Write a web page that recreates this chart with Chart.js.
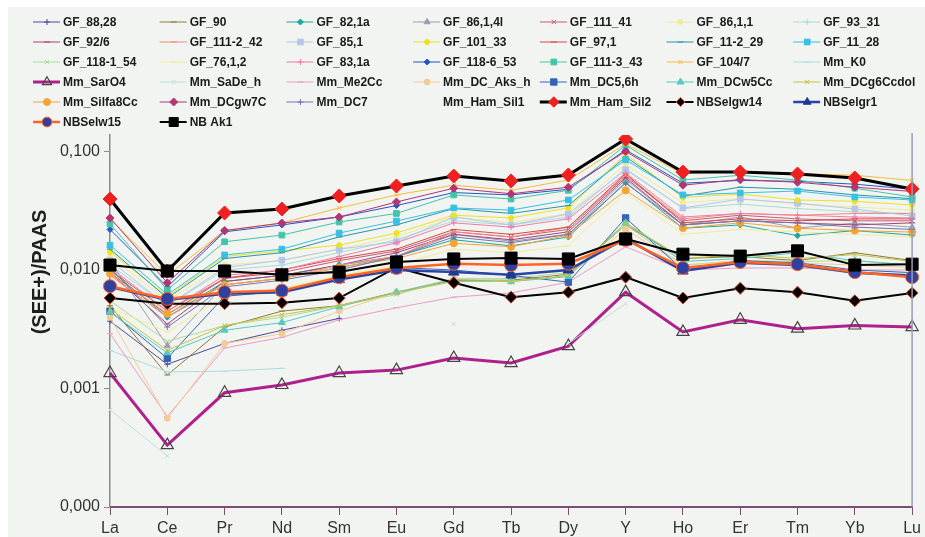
<!DOCTYPE html>
<html>
<head>
<meta charset="utf-8">
<script src="https://cdn.jsdelivr.net/npm/chart.js@4.4.1/dist/chart.umd.min.js"></script>
<style>
html,body{margin:0;padding:0;background:#ffffff;}
#c{display:block;}
</style>
</head>
<body>
<canvas id="c" width="925" height="537"></canvas>
<script>
// ---------- DATA ----------
const categories = ["La","Ce","Pr","Nd","Sm","Eu","Gd","Tb","Dy","Y","Ho","Er","Tm","Yb","Lu"];
const yTicks = [0.0001, 0.001, 0.01, 0.1];
const yTickLabels = ["0,000", "0,001", "0,010", "0,100"];
const yTitle = "(SEE+)/PAAS";

const gf88_28    = [0.0037,0.0016,0.0024,0.0031,0.0039,null,null,null,null,null,null,null,null,null,null];
const gf90       = [0.0050,0.0013,0.0033,0.0045,0.0050,0.0065,0.0082,0.0082,0.0092,0.024,0.0125,0.0130,0.0120,0.0140,0.0120];
const gf82_1a    = [0.0100,0.0040,0.0080,0.0090,0.0110,0.0130,0.0180,0.0160,0.0190,0.055,0.0225,0.0240,0.0195,0.0215,0.0197];
const gf86_1_4l  = [0.0120,0.0023,0.0075,0.0085,0.0105,0.0130,0.0200,0.0175,0.0200,0.058,0.0240,0.0280,0.0226,0.0249,0.0230];
const gf111_41   = [0.0100,0.0045,0.0085,0.0095,0.0120,0.0145,0.0210,0.0190,0.0220,0.062,0.0260,0.0290,0.0270,0.0260,0.0260];
const gf86_1_1   = [0.0130,0.0055,0.0110,0.0120,0.0150,0.0190,0.0280,0.0250,0.0300,0.078,0.0370,0.0400,0.0360,0.0340,0.0320];
const gf93_31    = [0.0110,0.0050,0.0100,0.0110,0.0140,0.0180,0.0260,0.0240,0.0280,0.072,0.0330,0.0360,0.0330,0.0310,0.0300];
const gf92_6     = [0.0095,0.0035,0.0080,0.0090,0.0110,0.0140,0.0200,0.0180,0.0210,0.060,0.0240,0.0260,0.0250,0.0240,0.0250];
const gf111_2_42 = [0.0090,0.0040,0.0075,0.0085,0.0110,0.0130,0.0210,0.0190,0.0230,0.063,0.0270,0.0300,0.0290,0.0300,0.0300];
const gf85_1     = [0.0120,0.0050,0.0105,0.0121,0.0150,0.0173,0.0280,0.0240,0.0297,0.070,0.0334,0.0397,0.0367,0.0327,0.0286];
const gf101_33   = [0.0142,0.0060,0.0130,0.0145,0.0162,0.0205,0.0290,0.0275,0.0334,0.095,0.0410,0.0437,0.0390,0.0380,0.0354];
const gf97_1     = [0.0095,0.0042,0.0085,0.0100,0.0125,0.0150,0.0220,0.0200,0.0230,0.065,0.0250,0.0270,0.0260,0.0270,0.0270];
const gf11_2_29  = [0.0150,0.0058,0.0125,0.0140,0.0190,0.0240,0.0330,0.0300,0.0350,0.090,0.0420,0.0500,0.0480,0.0430,0.0400];
const gf11_28    = [0.0162,0.0062,0.0134,0.0150,0.0205,0.0259,0.0334,0.0320,0.0390,0.085,0.0430,0.0447,0.0464,0.0413,0.0390];
const gf118_1_54 = [0.0055,0.0025,0.0034,0.0040,0.0050,0.0062,0.0085,0.0085,0.0095,0.024,0.0110,0.0120,0.0118,0.0120,0.0110];
const gf76_1_2   = [0.0048,0.0030,0.0060,0.0070,0.0090,0.0110,0.0150,0.0140,0.0160,0.045,0.0200,0.0220,0.0210,0.0200,0.0190];
const gf83_1a    = [0.0105,0.0045,0.0090,0.0100,0.0130,0.0170,0.0250,0.0230,0.0270,0.066,0.0280,0.0300,0.0290,0.0280,0.0275];
const gf118_6_53 = [0.0220,0.0072,0.0210,0.0240,0.0280,0.0350,0.0450,0.0430,0.0480,0.103,0.0540,0.0570,0.0560,0.0530,0.0480];
const gf111_3_43 = [0.0245,0.0068,0.0173,0.0197,0.0254,0.0300,0.0430,0.0397,0.0470,0.113,0.0575,0.0630,0.0575,0.0490,0.0413];
const gf104_7    = [0.0270,0.0090,0.0215,0.0250,0.0334,0.0430,0.0520,0.0470,0.0575,0.116,0.0650,0.0680,0.0650,0.0630,0.0570];
const mmK0       = [0.0021,0.00138,0.00140,0.00148,null,null,null,null,null,null,null,null,null,null,null];
const mmSarO4    = [0.00135,0.000333,0.00092,0.00107,0.00135,0.00143,0.00181,0.00164,0.00228,0.0065,0.0030,0.0038,0.0032,0.0034,0.0033];
const mmSaDe_h   = [0.00066,0.00027,null,null,null,null,0.0035,null,0.0024,0.0052,null,null,null,null,null];
const mmMe2Cc    = [0.0029,0.00058,0.0022,0.0027,0.0038,0.0048,0.0059,0.0064,0.0079,0.0157,0.0100,0.0104,0.0104,0.0100,0.0100];
const mmDC_Aks_h = [0.0040,0.00056,0.0024,0.0029,0.0045,0.0065,0.0085,0.0080,0.0090,0.022,0.0110,0.0120,0.0115,0.0110,0.0105];
const mmDC5_6h   = [0.0045,0.0018,0.0060,0.0066,0.0085,0.0105,0.0100,0.0090,0.0079,0.0275,0.0100,0.0120,0.0115,0.0100,0.0095];
const mmDCw5Cc   = [0.0044,0.0020,0.0031,0.0036,0.0049,0.0065,0.0083,0.0080,0.0088,0.025,0.0118,0.0125,0.0140,0.0120,0.0110];
const mmDCg6Ccdol= [0.0047,0.0021,0.0034,0.0042,0.0050,0.0064,0.0080,0.0080,0.0090,0.025,0.0125,0.0135,0.0125,0.0135,0.0118];
const mmSilfa8Cc = [0.0093,0.0043,0.0075,0.0085,0.0105,0.0125,0.0168,0.0157,0.0197,0.047,0.0226,0.0250,0.0225,0.0215,0.0209];
const mmDCgw7C   = [0.0275,0.0078,0.0215,0.0249,0.0280,0.0375,0.0490,0.0440,0.0500,0.100,0.0520,0.0580,0.0550,0.0500,0.0460];
const mmDC7      = [0.0105,0.0033,0.0072,0.0082,0.0100,0.0130,0.0190,0.0170,0.0200,0.054,0.0240,0.0260,0.0250,0.0230,0.0220];
const mmHamSil1  = [null,null,null,null,null,null,null,null,null,null,null,null,null,null,null];
const mmHamSil2  = [0.0397,0.0098,0.0303,0.0327,0.0421,0.0512,0.0621,0.0564,0.0634,0.1275,0.0671,0.0671,0.0646,0.0598,0.0483];
const nbSelgw14  = [0.0058,0.0052,0.0052,0.0053,0.0058,0.0105,0.0078,0.0059,0.0065,0.0087,0.0058,0.0070,0.0065,0.0055,0.0064];
const nbSelgr1   = [0.0072,0.0056,0.0063,0.0065,0.0083,0.0100,0.0096,0.0091,0.0100,0.0185,0.0098,0.0115,0.0110,0.0095,0.0090];
const nbSelw15   = [0.0073,0.0057,0.0065,0.0067,0.0087,0.0104,0.0113,0.0110,0.0113,0.0180,0.0104,0.0117,0.0112,0.0096,0.0087];
const nbAk1      = [0.0110,0.0098,0.0098,0.0091,0.0096,0.0117,0.0124,0.0126,0.0124,0.0183,0.0136,0.0131,0.0145,0.0110,0.0112];

// ---------- SERIES (label, data, style) ----------
const series = [
 ["GF_88,28", gf88_28,    {c:"#4a4a9a", p:"cross", r:3}],
 ["GF_90", gf90,          {c:"#8c7c3a", p:"line", r:3}],
 ["GF_82,1a", gf82_1a,    {c:"#1ea89c", p:"rectRot", r:3}],
 ["GF_86,1,4l", gf86_1_4l,{c:"#9c9cae", p:"triangle", r:3.5}],
 ["GF_111_41", gf111_41,  {c:"#c85a70", p:"crossRot", r:3}],
 ["GF_86,1,1", gf86_1_1,  {c:"#f0ea9a", p:"circle", r:2.5}],
 ["GF_93_31", gf93_31,    {c:"#a8dcd4", p:"cross", r:3}],
 ["GF_92/6", gf92_6,      {c:"#a8407e", p:"line", r:3}],
 ["GF_111-2_42", gf111_2_42,{c:"#f48a78", p:"line", r:3}],
 ["GF_85,1", gf85_1,      {c:"#b4c6ea", p:"rect", r:4}],
 ["GF_101_33", gf101_33,  {c:"#ece21e", p:"circle", r:2.5}],
 ["GF_97,1", gf97_1,      {c:"#d84848", p:"line", r:3}],
 ["GF_11-2_29", gf11_2_29,{c:"#2c92a4", p:"line", r:3}],
 ["GF_11_28", gf11_28,    {c:"#34c2e4", p:"rect", r:4}],
 ["GF_118-1_54", gf118_1_54,{c:"#aedc96", p:"crossRot", r:3}],
 ["GF_76,1,2", gf76_1_2,  {c:"#f2ec98", p:"line", r:3}],
 ["GF_83,1a", gf83_1a,    {c:"#f47aa8", p:"cross", r:3}],
 ["GF_118-6_53", gf118_6_53,{c:"#2456c4", p:"rectRot", r:3}],
 ["GF_111-3_43", gf111_3_43,{c:"#44c4a8", p:"rect", r:4}],
 ["GF_104/7", gf104_7,    {c:"#f8bc38", p:"crossRot", r:3}],
 ["Mm_K0", mmK0,          {c:"#a8dede", p:"line", r:3}],
 ["Mm_SarO4", mmSarO4,    {c:"#b0208c", p:"triangle", r:7, w:3, bg:"rgba(255,255,255,0)", bc:"#444444", bw:1.2}],
 ["Mm_SaDe_h", mmSaDe_h,  {c:"#bce2de", p:"crossRot", r:3}],
 ["Mm_Me2Cc", mmMe2Cc,    {c:"#ec9cc4", p:"line", r:3}],
 ["Mm_DC_Aks_h", mmDC_Aks_h,{c:"#f2cc94", p:"circle", r:3}],
 ["Mm_DC5,6h", mmDC5_6h,  {c:"#3464b4", p:"rect", r:4.5}],
 ["Mm_DCw5Cc", mmDCw5Cc,  {c:"#54cac4", p:"triangle", r:4}],
 ["Mm_DCg6Ccdol", mmDCg6Ccdol,{c:"#c4c444", p:"crossRot", r:3}],
 ["Mm_Silfa8Cc", mmSilfa8Cc,{c:"#f4a434", p:"circle", r:3.5}],
 ["Mm_DCgw7C", mmDCgw7C,  {c:"#b43474", p:"rectRot", r:4}],
 ["Mm_DC7", mmDC7,        {c:"#7474ac", p:"cross", r:3}],
 ["Mm_Ham_Sil1", mmHamSil1,{c:"rgba(0,0,0,0)", p:false, r:0, hidden:true}],
 ["Mm_Ham_Sil2", mmHamSil2,{c:"#000000", p:"rectRot", r:7, w:3, bg:"#f02020", bc:"#f02020", bw:1}],
 ["NBSelgw14", nbSelgw14, {c:"#000000", p:"rectRot", r:6, w:2, bg:"#000000", bc:"#e04020", bw:1}],
 ["NBSelgr1", nbSelgr1,   {c:"#2a44a4", p:"triangle", r:6, w:2.5, bg:"#203a8c", bc:"#203a8c", bw:1}],
 ["NBSelw15", nbSelw15,   {c:"#ff6424", p:"circle", r:6.5, w:2.5, bg:"#3040a0", bc:"#ff6424", bw:1}],
 ["NB Ak1", nbAk1,        {c:"#000000", p:"rect", r:8.5, w:2, bg:"#000000", bc:"#000000", bw:1}]
];

const N = series.length;
const datasets = series.map(([label, data, s], i) => ({
  label: label,
  data: data,
  borderColor: s.c,
  backgroundColor: s.bg || s.c,
  borderWidth: s.w || 1,
  pointStyle: s.p,
  pointRadius: s.r,
  pointBorderColor: s.bc || s.c,
  pointBackgroundColor: s.bg || s.c,
  pointBorderWidth: s.bw || 1,
  pointHoverRadius: s.r,
  tension: 0,
  spanGaps: false,
  order: N - 1 - i,
  _legendHidden: !!s.hidden
}));

// ---------- PLUGINS ----------
const bgPlugin = {
  id: 'bg',
  beforeDraw(chart) {
    const ctx = chart.ctx;
    ctx.save();
    ctx.fillStyle = '#ffffff';
    ctx.fillRect(0, 0, chart.width, chart.height);
    ctx.fillStyle = '#f2f4f2';
    ctx.fillRect(8, 7, chart.width - 8, chart.height - 7);
    ctx.restore();
  }
};

const extrasPlugin = {
  id: 'extras',
  afterDraw(chart) {
    const ctx = chart.ctx;
    const a = chart.chartArea;
    ctx.save();
    ctx.strokeStyle = '#9c9cb4';
    ctx.lineWidth = 1.5;
    ctx.beginPath();
    ctx.moveTo(a.right, a.top - 2);
    ctx.lineTo(a.right, a.bottom);
    ctx.stroke();
    ctx.translate(40, 272);
    ctx.rotate(-Math.PI / 2);
    ctx.font = 'bold 20px "Liberation Sans", Arial, sans-serif';
    ctx.fillStyle = '#1e1e1e';
    ctx.textAlign = 'center';
    ctx.textBaseline = 'middle';
    ctx.fillText(yTitle, 0, 0);
    ctx.restore();

    ctx.save();
    ctx.font = 'bold 12px "Liberation Sans", Arial, sans-serif';
    ctx.textBaseline = 'middle';
    ctx.textAlign = 'left';
    chart.data.datasets.forEach((ds, i) => {
      const col = i % 7, row = Math.floor(i / 7);
      const tx = 63 + col * 126.7;
      const ty = 22 + row * 20;
      if (!ds._legendHidden) {
        ctx.strokeStyle = ds.borderColor;
        ctx.lineWidth = ds.borderWidth;
        ctx.beginPath();
        ctx.moveTo(tx - 30, ty);
        ctx.lineTo(tx - 3, ty);
        ctx.stroke();
        ctx.fillStyle = ds.pointBackgroundColor;
        ctx.strokeStyle = ds.pointBorderColor;
        ctx.lineWidth = ds.pointBorderWidth;
        const r = ds.pointRadius > 5 ? ds.pointRadius * 0.75 : ds.pointRadius;
        Chart.helpers.drawPoint(ctx, {pointStyle: ds.pointStyle, radius: r, rotation: 0, borderWidth: ds.pointBorderWidth}, tx - 16, ty);
      }
      ctx.fillStyle = '#1a1a1a';
      ctx.fillText(ds.label, tx, ty + 1);
    });
    ctx.restore();
  }
};

// ---------- CHART ----------
new Chart(document.getElementById('c'), {
  type: 'line',
  data: { labels: categories, datasets: datasets },
  options: {
    responsive: false,
    animation: false,
    devicePixelRatio: 1,
    layout: { padding: { top: 135, right: 12, left: 0, bottom: 0 } },
    plugins: { legend: { display: false }, tooltip: { enabled: false } },
    scales: {
      x: {
        type: 'category',
        offset: false,
        grid: { display: true, drawOnChartArea: false, drawTicks: true, tickLength: 8, color: '#7c4c72', lineWidth: 1 },
        border: { display: true, color: '#7c4c72', width: 2 },
        ticks: { autoSkip: false, maxRotation: 0, color: '#333333', padding: 4,
                 font: { size: 16, family: '"Liberation Sans", Arial, sans-serif' } },
        afterFit(scale) { scale.height = 30; }
      },
      y: {
        type: 'logarithmic',
        min: 0.0001,
        max: 0.1378,
        grid: { display: true, drawOnChartArea: false, drawTicks: true, tickLength: 6, color: '#8a8a8a' },
        border: { display: true, color: '#8a8a8a', width: 1.5 },
        ticks: {
          color: '#333333', padding: 4,
          font: { size: 16, family: '"Liberation Sans", Arial, sans-serif' },
          callback: (v) => { const k = yTicks.findIndex(t => Math.abs(t - v) / t < 1e-6); return k >= 0 ? yTickLabels[k] : ''; }
        },
        afterBuildTicks(scale) { scale.ticks = yTicks.map(v => ({ value: v })); },
        afterFit(scale) { scale.width = 110; }
      }
    }
  },
  plugins: [bgPlugin, extrasPlugin]
});
</script>
</body>
</html>
